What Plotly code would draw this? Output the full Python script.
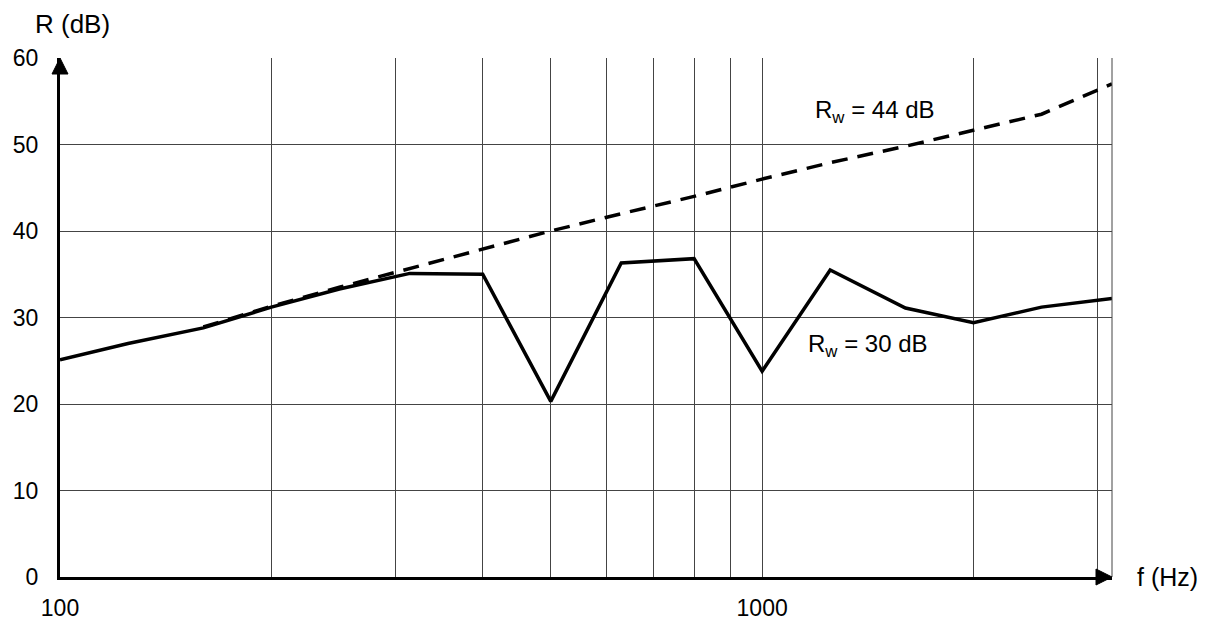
import plotly.graph_objects as go

freqs = [100, 125, 160, 200, 250, 315, 400, 500, 630, 800, 1000, 1250, 1600, 2000, 2500, 3150]
r_measured = [25.1, 27.0, 28.8, 31.2, 33.3, 35.1, 35.0, 20.3, 36.3, 36.8, 23.8, 35.5, 31.1, 29.4, 31.2, 32.2]
freqs_ref = [160, 200, 250, 315, 400, 500, 630, 800, 1000, 1250, 1600, 2000, 2500, 3150]
r_reference = [28.9, 31.3, 33.5, 35.7, 37.9, 40.0, 42.0, 44.0, 46.0, 47.9, 49.8, 51.7, 53.5, 57.0]

x_grid = [100, 200, 300, 400, 500, 600, 700, 800, 900, 1000, 2000, 3000]
x_labels = ["100", "", "", "", "", "", "", "", "", "1000", "", ""]
y_ticks = [0, 10, 20, 30, 40, 50, 60]

FONT = "Liberation Sans, Arial, sans-serif"

fig = go.Figure()
fig.add_trace(go.Scatter(x=freqs_ref, y=r_reference, mode="lines",
                         line=dict(color="black", width=3.5, dash="16px,10px"), showlegend=False))
fig.add_trace(go.Scatter(x=freqs, y=r_measured, mode="lines",
                         line=dict(color="black", width=3.5), showlegend=False))

fig.update_layout(
    width=1209, height=623,
    margin=dict(l=60, r=97, t=58, b=46),
    plot_bgcolor="white", paper_bgcolor="white",
    font=dict(family=FONT, size=22, color="black"),
    xaxis=dict(type="log", range=[2, 3.4983], tickvals=x_grid, ticktext=x_labels,
               showgrid=True, gridcolor="#444", gridwidth=1, zeroline=False,
               showline=True, linecolor="black", linewidth=3, ticks="",
               ticklabelstandoff=8, tickfont=dict(size=23), automargin=False),
    yaxis=dict(range=[0, 60], tickvals=y_ticks, showgrid=True, gridcolor="#444",
               gridwidth=1, zeroline=False, showline=True, linecolor="black",
               linewidth=3, ticks="", ticklabelstandoff=14, tickfont=dict(size=23),
               automargin=False),
    shapes=[
        dict(type="line", xref="paper", yref="paper", x0=1, x1=1, y0=0, y1=1,
             line=dict(color="#444", width=1)),
        dict(type="path", xref="paper", yref="paper", xsizemode="pixel", ysizemode="pixel",
             xanchor=0, yanchor=1, path="M -8,-16 L 8,-16 L 0,0 Z",
             fillcolor="black", line=dict(color="black", width=1)),
        dict(type="path", xref="paper", yref="paper", xsizemode="pixel", ysizemode="pixel",
             xanchor=1, yanchor=0, path="M -16,-8 L -16,8 L 0,0 Z",
             fillcolor="black", line=dict(color="black", width=1)),
    ],
    annotations=[
        dict(text="R (dB)", xref="paper", yref="paper", x=-0.0257, y=1.066,
             xanchor="left", yanchor="middle", showarrow=False, font=dict(size=26)),
        dict(text="f (Hz)", xref="paper", yref="paper", x=1.0219, y=0.0,
             xanchor="left", yanchor="middle", showarrow=False, font=dict(size=25)),
        dict(text="R<sub>w</sub> = 44 dB", x=3.161, y=53.8, xref="x", yref="y",
             xanchor="center", yanchor="middle", showarrow=False, font=dict(size=24)),
        dict(text="R<sub>w</sub> = 30 dB", x=3.151, y=26.8, xref="x", yref="y",
             xanchor="center", yanchor="middle", showarrow=False, font=dict(size=24)),
    ],
)

fig.write_html("out.html")
